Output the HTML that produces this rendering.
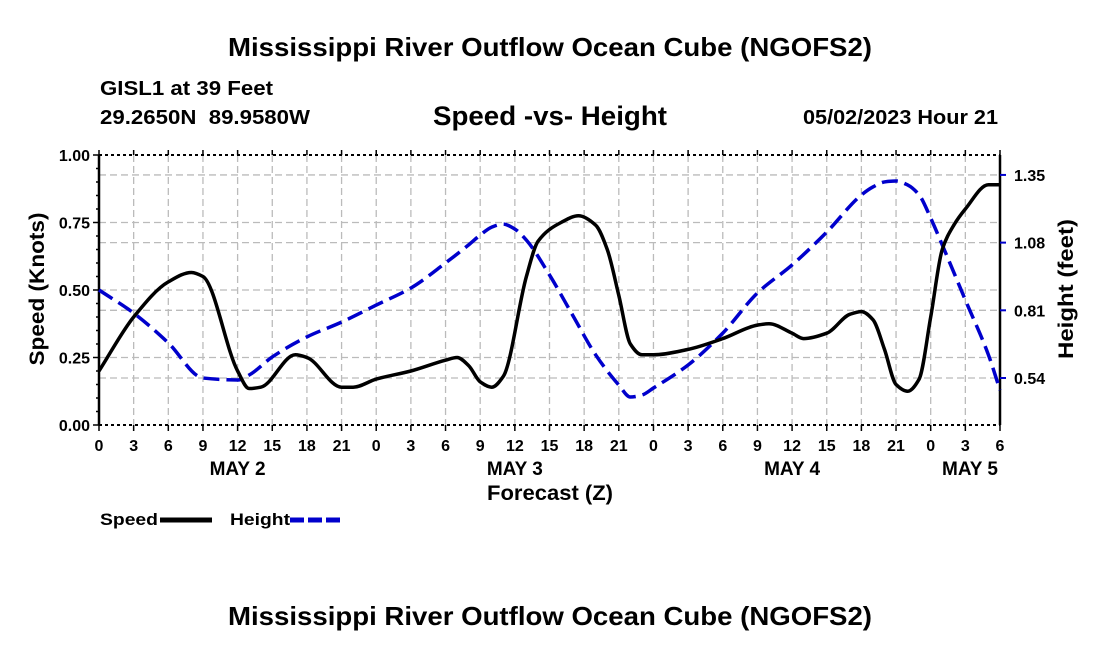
<!DOCTYPE html>
<html><head><meta charset="utf-8"><style>
body{margin:0;background:#fff;}
svg{display:block;font-family:"Liberation Sans",Arial,sans-serif;font-weight:bold;}
</style></head><body>
<svg id="chart" width="1100" height="650" viewBox="0 0 1100 650">
<text x="550" y="56" text-anchor="middle" font-size="26" textLength="644" lengthAdjust="spacingAndGlyphs">Mississippi River Outflow Ocean Cube (NGOFS2)</text>
<text x="100" y="95" font-size="20" textLength="173" lengthAdjust="spacingAndGlyphs">GISL1 at 39 Feet</text>
<text x="100" y="124" font-size="20" textLength="210" lengthAdjust="spacingAndGlyphs" xml:space="preserve">29.2650N  89.9580W</text>
<text x="550" y="125" text-anchor="middle" font-size="27" textLength="234" lengthAdjust="spacingAndGlyphs">Speed -vs- Height</text>
<text x="998" y="124" text-anchor="end" font-size="20" textLength="195" lengthAdjust="spacingAndGlyphs">05/02/2023 Hour 21</text>
<g id="grid"></g>
<g id="axes"></g>
<g id="series"></g>
<text x="550" y="500" text-anchor="middle" font-size="21" textLength="126" lengthAdjust="spacingAndGlyphs">Forecast (Z)</text>
<text transform="translate(44,289) rotate(-90)" text-anchor="middle" font-size="21" textLength="153" lengthAdjust="spacingAndGlyphs">Speed (Knots)</text>
<text transform="translate(1073,289) rotate(-90)" text-anchor="middle" font-size="21" textLength="140" lengthAdjust="spacingAndGlyphs">Height (feet)</text>
<g><text x="100" y="525" font-size="17" textLength="58" lengthAdjust="spacingAndGlyphs">Speed</text><line x1="160" y1="520" x2="212" y2="520" stroke="#000" stroke-width="5"/></g>
<g><text x="230" y="525" font-size="17" textLength="60" lengthAdjust="spacingAndGlyphs">Height</text><line x1="290" y1="520" x2="342" y2="520" stroke="#00c" stroke-width="5" stroke-dasharray="14,4"/></g>
<text x="550" y="625" text-anchor="middle" font-size="26" textLength="644" lengthAdjust="spacingAndGlyphs">Mississippi River Outflow Ocean Cube (NGOFS2)</text>
</svg>
<script>
const speedHours=[0,3,6,8,9,12,13,14,17,18,21,22,24,27,30,31,32,33,34,35,37,38,40,41.5,43,44,45,46,47,48,51,54,57,58,60,61,63,65,66,67,68,69,70,71,72,73,74,75,77,78];
const speedValues=[0.20,0.40,0.53,0.565,0.55,0.20,0.135,0.14,0.26,0.25,0.14,0.14,0.17,0.20,0.24,0.25,0.22,0.16,0.14,0.18,0.55,0.68,0.75,0.775,0.74,0.65,0.48,0.30,0.26,0.26,0.28,0.32,0.37,0.375,0.34,0.32,0.34,0.41,0.42,0.39,0.28,0.15,0.125,0.17,0.40,0.65,0.74,0.80,0.89,0.89];
const heightHours=[0,3,6,9,12,13,15,18,21,24,27,30,32,33,34,35,36,37,39,41,43,45,46,47,48,51,54,57,60,63,66,67,68,69,70,71,72,73,75,77,78];
const heightValues=[0.891,0.799,0.680,0.540,0.532,0.552,0.624,0.704,0.763,0.831,0.899,0.999,1.071,1.110,1.142,1.154,1.134,1.090,0.951,0.791,0.632,0.512,0.464,0.472,0.500,0.592,0.719,0.879,0.991,1.122,1.270,1.302,1.322,1.326,1.310,1.270,1.178,1.071,0.851,0.632,0.492];
const xTickLabels=["0","3","6","9","12","15","18","21","0","3","6","9","12","15","18","21","0","3","6","9","12","15","18","21","0","3","6"];
const dayLabels=["MAY 2","MAY 3","MAY 4","MAY 5"];
const dayHours=[12,36,60,78];
const speedTicks=[0,0.25,0.5,0.75,1.0];
const heightTicks=[0.54,0.81,1.08,1.35];
const L=99,R=1000,T=155,B=425;
const NS="http://www.w3.org/2000/svg";
const xs=h=>L+(R-L)*h/78;
const ys=v=>B-(B-T)*v;
const yh=f=>378-(f-0.54)*250.7;
function mk(p,tag,a){const e=document.createElementNS(NS,tag);for(const k in a)e.setAttribute(k,a[k]);p.appendChild(e);return e;}
const grid=document.getElementById('grid'),axes=document.getElementById('axes'),ser=document.getElementById('series');
const gs={stroke:"#bbb","stroke-width":1.3,"stroke-dasharray":"7,4"};
for(let i=1;i<xTickLabels.length-1;i++){const x=xs(i*3);const g=mk(grid,'line',Object.assign({x1:x,x2:x,y1:T,y2:B},gs));}
speedTicks.slice(1,-1).forEach(v=>{const g=mk(grid,'line',Object.assign({x1:L,x2:R,y1:ys(v),y2:ys(v)},gs));});
heightTicks.forEach(v=>{const g=mk(grid,'line',Object.assign({x1:L,x2:R,y1:yh(v),y2:yh(v)},gs));});
mk(axes,'line',{x1:L,x2:R,y1:T,y2:T,stroke:"#000","stroke-width":2,"stroke-dasharray":"3,3"});
mk(axes,'line',{x1:L,x2:R,y1:B,y2:B,stroke:"#000","stroke-width":2,"stroke-dasharray":"3,3"});
mk(axes,'line',{x1:L,x2:L,y1:T,y2:B,stroke:"#000","stroke-width":2.5});
mk(axes,'line',{x1:R,x2:R,y1:T,y2:B,stroke:"#000","stroke-width":2.5});
for(let i=0;i<xTickLabels.length;i++){const x=xs(i*3);
mk(axes,'line',{x1:x,x2:x,y1:B,y2:B+6,stroke:"#000","stroke-width":1.5});
mk(axes,'line',{x1:x,x2:x,y1:T,y2:T-5,stroke:"#000","stroke-width":1.5});
const t=mk(axes,'text',{x:x,y:451,"text-anchor":"middle","font-size":16});t.textContent=xTickLabels[i];
}
dayLabels.forEach((d,i)=>{const t=mk(axes,'text',{x:xs(dayHours[i])-(i==3?30:0),y:475,"text-anchor":"middle","font-size":19});t.textContent=d;
});
for(let k=0;k<=20;k++){const v=k*0.05,y=ys(v);mk(axes,'line',{x1:L-(k%5==0?6:3),x2:L,y1:y,y2:y,stroke:"#000","stroke-width":1.5});}
speedTicks.forEach(v=>{const t=mk(axes,'text',{x:L-9,y:ys(v)+6,"text-anchor":"end","font-size":16});t.textContent=v.toFixed(2);
});
heightTicks.forEach(v=>{mk(axes,'line',{x1:R,x2:R+6,y1:yh(v),y2:yh(v),stroke:"#00c","stroke-width":2});
const t=mk(axes,'text',{x:R+14,y:yh(v)+6,"font-size":16});t.textContent=v.toFixed(2);
});
function path(pts){const n=pts.length,d=[],m=new Array(n);
for(let i=0;i<n-1;i++)d.push((pts[i+1][1]-pts[i][1])/(pts[i+1][0]-pts[i][0]));
m[0]=d[0];m[n-1]=d[n-2];
for(let i=1;i<n-1;i++){if(d[i-1]*d[i]<=0)m[i]=0;else{const h0=pts[i][0]-pts[i-1][0],h1=pts[i+1][0]-pts[i][0];const w1=2*h1+h0,w2=h1+2*h0;m[i]=(w1+w2)/(w1/d[i-1]+w2/d[i]);}}
let s="M"+pts[0][0]+","+pts[0][1];
for(let i=0;i<n-1;i++){const h=(pts[i+1][0]-pts[i][0])/3;
s+=" C"+(pts[i][0]+h)+","+(pts[i][1]+m[i]*h)+" "+(pts[i+1][0]-h)+","+(pts[i+1][1]-m[i+1]*h)+" "+pts[i+1][0]+","+pts[i+1][1];}
return s;}
const hp=mk(ser,'path',{d:path(heightHours.map((h,i)=>[xs(h),yh(heightValues[i])])),fill:"none",stroke:"#00c","stroke-width":3.5,"stroke-dasharray":"16,7"});

const sp=mk(ser,'path',{d:path(speedHours.map((h,i)=>[xs(h),ys(speedValues[i])])),fill:"none",stroke:"#000","stroke-width":3.5});

</script>
</body></html>
